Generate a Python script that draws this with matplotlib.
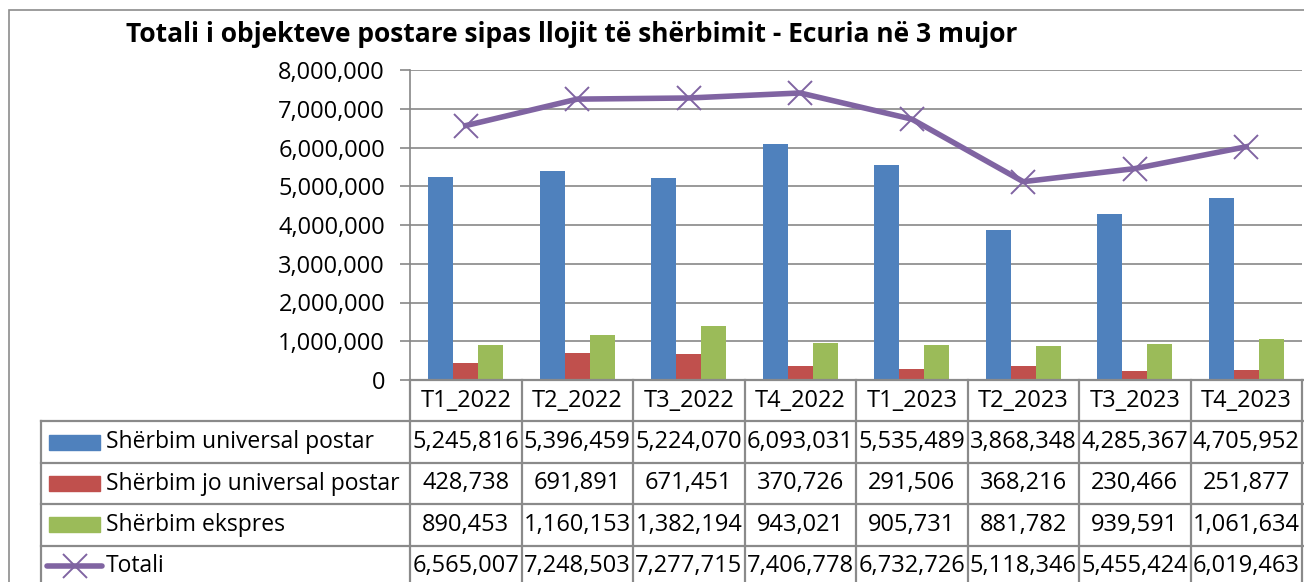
import matplotlib.pyplot as plt
from matplotlib.patches import Rectangle
from matplotlib.lines import Line2D
from matplotlib.ticker import FuncFormatter, MultipleLocator
import matplotlib.transforms as mtransforms

plt.rcParams['font.family'] = ['Open Sans', 'DejaVu Sans']

categories = ['T1_2022', 'T2_2022', 'T3_2022', 'T4_2022',
              'T1_2023', 'T2_2023', 'T3_2023', 'T4_2023']
universal = [5245816, 5396459, 5224070, 6093031, 5535489, 3868348, 4285367, 4705952]
jo_universal = [428738, 691891, 671451, 370726, 291506, 368216, 230466, 251877]
ekspres = [890453, 1160153, 1382194, 943021, 905731, 881782, 939591, 1061634]
totali = [6565007, 7248503, 7277715, 7406778, 6732726, 5118346, 5455424, 6019463]

series_names = ['Shërbim universal postar', 'Shërbim jo universal postar',
                'Shërbim ekspres', 'Totali']
bar_colors = ['#4F81BD', '#C0504D', '#9BBB59']
line_color = '#8064A2'
grid_color = '#878787'
title = 'Totali i objekteve postare sipas llojit të shërbimit - Ecuria në 3 mujor'

W, H = 1304, 582
FS = 17


def box(x0, y0, x1, y1):
    # pixel box (top-left origin) -> figure fraction rect
    return [x0 / W, 1 - y1 / H, (x1 - x0) / W, (y1 - y0) / H]


fig = plt.figure(figsize=(W / 100, H / 100), dpi=100)

# chart frame
fig.patches.append(Rectangle((9 / W, -0.1), 1.2, 1 - 10 / H + 0.1,
                             transform=fig.transFigure, fill=False,
                             edgecolor='#8c8c8c', linewidth=1.2))

fig.text(572 / W, 1 - 35 / H, title, ha='center', va='center',
         fontsize=19, fontweight='bold')

# main plot
x0, x1 = 410, 1302
ax = fig.add_axes(box(x0, 70, x1, 380))
xs = list(range(len(categories)))
bw = 25 / ((x1 - x0) / len(categories))
for i, (vals, c) in enumerate(zip([universal, jo_universal, ekspres], bar_colors)):
    ax.bar([x + (i - 1) * bw for x in xs], vals, width=bw, color=c, zorder=2)
ax.plot(xs, totali, color=line_color, linewidth=4, marker='x',
        markersize=17, markeredgewidth=1.4, zorder=3)

ax.set_xlim(-0.5, len(categories) - 0.5)
ax.set_ylim(0, 8000000)
ax.yaxis.set_major_locator(MultipleLocator(1000000))
ax.yaxis.set_major_formatter(FuncFormatter(lambda v, p: f'{int(v):,}'))
ax.grid(axis='y', color=grid_color, linewidth=1.2, zorder=0)
ax.tick_params(axis='y', length=7, width=1.2, color=grid_color,
               labelsize=FS, pad=11)
ax.set_xticks([])
for s in ['top', 'right', 'bottom']:
    ax.spines[s].set_visible(False)
ax.spines['left'].set_color(grid_color)
ax.spines['left'].set_linewidth(1.2)

# data table below the plot
row_h = 41.4
n_rows = 5
tab = fig.add_axes(box(x0, 380, x1, 380 + n_rows * row_h), sharex=ax)
tab.set_ylim(n_rows, 0)
tab.axis('off')
tr = mtransforms.blended_transform_factory(tab.transAxes, tab.transData)


def fx(px):
    return (px - x0) / (x1 - x0)


lc = '#8a8a8a'
lw = 1.6
# horizontal lines
for r in range(1, n_rows + 1):
    tab.add_line(Line2D([fx(41), 1.002], [r, r], transform=tr, color=lc,
                        linewidth=lw, clip_on=False))
# vertical lines
for k in range(len(categories) + 1):
    tab.plot([k - 0.5, k - 0.5], [0, n_rows], color=lc, linewidth=lw,
             clip_on=False)
tab.add_line(Line2D([fx(41), fx(41)], [1, n_rows], transform=tr, color=lc,
                    linewidth=lw, clip_on=False))
tab.add_line(Line2D([0, 1.002], [0, 0], transform=tr, color=lc,
                    linewidth=lw, clip_on=False))

for x, cat in zip(xs, categories):
    tab.text(x, 0.5, cat, ha='center', va='center', fontsize=FS)

rows = [universal, jo_universal, ekspres, totali]
for r, vals in enumerate(rows, start=1):
    for x, v in zip(xs, vals):
        tab.text(x, r + 0.5, f'{v:,}', ha='center', va='center', fontsize=FS)
    tab.text(fx(106), r + 0.5, series_names[r - 1], transform=tr,
             ha='left', va='center', fontsize=16.5)
    if r <= 3:
        tab.add_patch(Rectangle((fx(49), r + 0.32), fx(100) - fx(49), 0.36,
                                transform=tr, color=bar_colors[r - 1],
                                clip_on=False))
    else:
        tab.add_line(Line2D([fx(47), fx(102)], [r + 0.5, r + 0.5], transform=tr,
                            color=line_color, linewidth=4, clip_on=False,
                            solid_capstyle='round'))
        tab.add_line(Line2D([fx(75)], [r + 0.5], transform=tr, marker='x',
                            markersize=17, markeredgewidth=1.4,
                            color=line_color, clip_on=False))

fig.savefig('out.png', dpi=100)
